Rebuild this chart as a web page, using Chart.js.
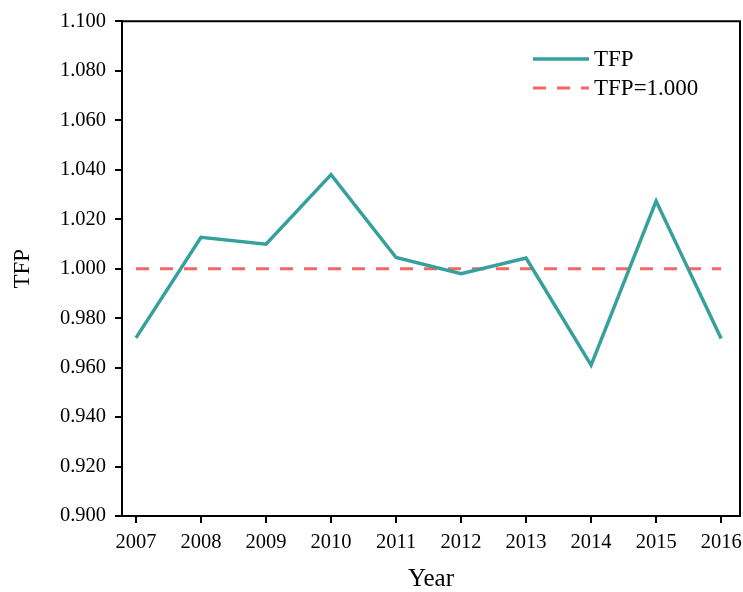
<!DOCTYPE html>
<html>
<head>
<meta charset="utf-8">
<script src="https://cdn.jsdelivr.net/npm/chart.js@4/dist/chart.umd.min.js"></script>
<style>
  html, body { margin: 0; padding: 0; background: #fff; }
  #wrap { width: 743px; height: 592px; position: relative; }
</style>
</head>
<body>
<div id="wrap"><canvas id="c" width="743" height="592"></canvas></div>
<script>
const years = [2007, 2008, 2009, 2010, 2011, 2012, 2013, 2014, 2015, 2016];
const tfp = [0.972, 1.0127, 1.0099, 1.038, 1.0045, 0.998, 1.0043, 0.961, 1.0273, 0.9718];
const refYears = [2007, 2016];
const refValue = [1.000, 1.000];
const yTicks = [0.900, 0.920, 0.940, 0.960, 0.980, 1.000, 1.020, 1.040, 1.060, 1.080, 1.100];
const seriesNames = ['TFP', 'TFP=1.000'];

const FONT = "'Liberation Serif', 'Times New Roman', serif";
const TEAL = '#36A09C';
const RED = '#F76565';

const framePlugin = {
  id: 'frame',
  afterDraw(chart) {
    const {ctx, chartArea: a} = chart;
    ctx.save();
    ctx.strokeStyle = '#000';
    ctx.lineWidth = 2;
    ctx.beginPath();
    ctx.moveTo(a.left, a.top);
    ctx.lineTo(a.right, a.top);
    ctx.lineTo(a.right, a.bottom);
    ctx.stroke();
    ctx.restore();
  }
};

const legendPlugin = {
  id: 'innerLegend',
  afterDatasetsDraw(chart) {
    const {ctx} = chart;
    const x0 = 533, x1 = 589, tx = 594;
    const rows = [59, 88];
    ctx.save();
    chart.data.datasets.forEach((ds, i) => {
      const y = rows[i];
      ctx.strokeStyle = ds.borderColor;
      ctx.lineWidth = ds.borderWidth;
      ctx.lineCap = 'butt';
      ctx.setLineDash(ds.borderDash || []);
      ctx.beginPath();
      ctx.moveTo(x0, y);
      ctx.lineTo(x1, y);
      ctx.stroke();
      ctx.setLineDash([]);
      ctx.fillStyle = '#000';
      ctx.font = '23px ' + FONT;
      ctx.textBaseline = 'middle';
      ctx.textAlign = 'left';
      ctx.fillText(ds.label, tx, y + 1);
    });
    ctx.restore();
  }
};

new Chart(document.getElementById('c'), {
  type: 'line',
  data: {
    datasets: [
      {
        label: seriesNames[0],
        data: years.map((y, i) => ({x: y, y: tfp[i]})),
        borderColor: TEAL,
        backgroundColor: TEAL,
        borderWidth: 3.5,
        pointRadius: 0,
        tension: 0,
        borderJoinStyle: 'miter'
      },
      {
        label: seriesNames[1],
        data: refYears.map((y, i) => ({x: y, y: refValue[i]})),
        borderColor: RED,
        backgroundColor: RED,
        borderWidth: 3,
        borderDash: [13, 11],
        pointRadius: 0
      }
    ]
  },
  options: {
    responsive: false,
    animation: false,
    devicePixelRatio: 1,
    layout: { padding: { left: 0, top: 18, right: 3, bottom: 0 } },
    plugins: { legend: { display: false }, tooltip: { enabled: false } },
    scales: {
      x: {
        type: 'linear',
        min: 2006.785,
        max: 2016.29,
        afterBuildTicks(scale) { scale.ticks = years.map(v => ({value: v})); },
        afterFit(scale) { scale.height = 76; scale.paddingLeft = 0; scale.paddingRight = 0; },
        ticks: {
          color: '#000',
          font: { family: FONT, size: 20.5 },
          padding: 7,
          maxRotation: 0,
          autoSkip: false,
          callback: v => String(v)
        },
        grid: { drawOnChartArea: false, drawTicks: true, tickLength: 7, color: '#000', lineWidth: 2 },
        border: { color: '#000', width: 2 },
        title: {
          display: true,
          text: 'Year',
          color: '#000',
          font: { family: FONT, size: 25, lineHeight: 1 },
          padding: { top: 0, bottom: 0 }
        }
      },
      y: {
        min: 0.9,
        max: 1.1,
        afterBuildTicks(scale) { scale.ticks = yTicks.map(v => ({value: v})); },
        afterFit(scale) { scale.width = 122; },
        ticks: {
          color: '#000',
          font: { family: FONT, size: 20.5 },
          padding: 9,
          callback: v => Number(v).toFixed(3)
        },
        grid: { drawOnChartArea: false, drawTicks: true, tickLength: 7, color: '#000', lineWidth: 2 },
        border: { color: '#000', width: 2 },
        title: {
          display: true,
          text: 'TFP',
          color: '#000',
          font: { family: FONT, size: 23, lineHeight: 1 },
          padding: { top: 11, bottom: 0 }
        }
      }
    }
  },
  plugins: [framePlugin, legendPlugin]
});
</script>
</body>
</html>
